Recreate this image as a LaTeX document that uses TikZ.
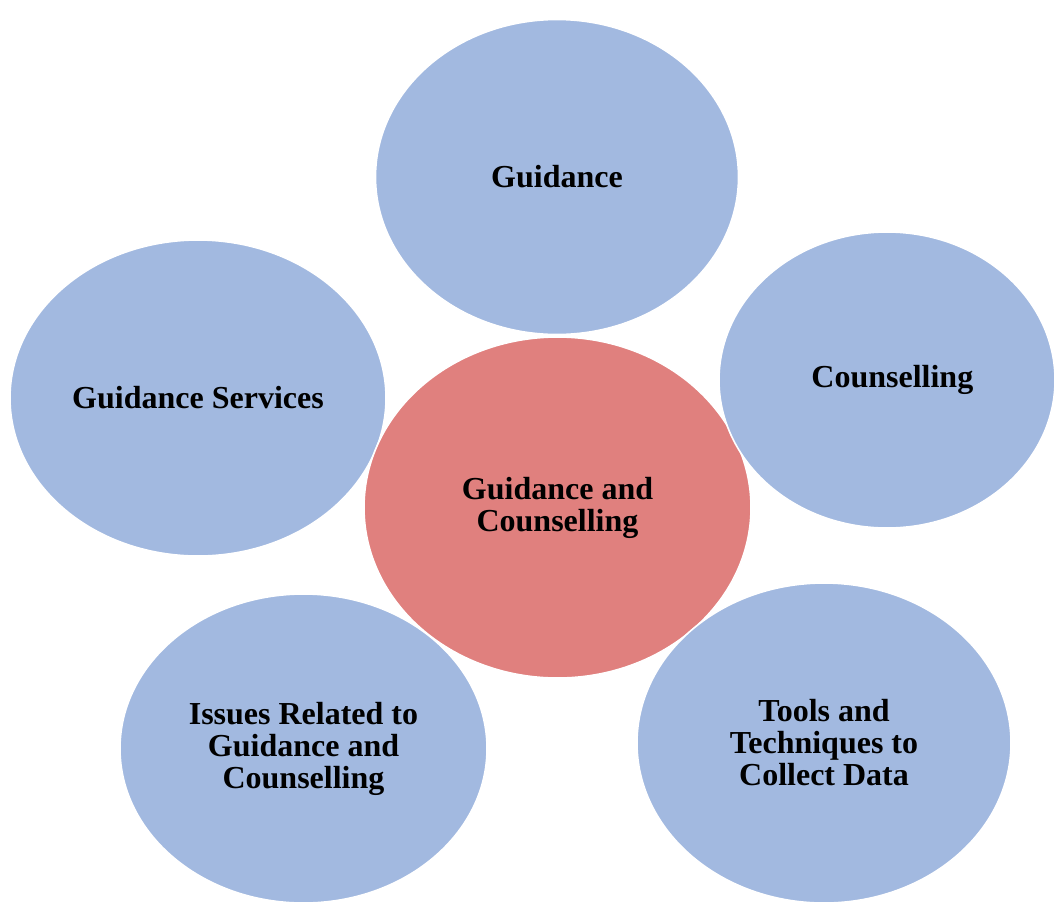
\documentclass[tikz,border=0pt]{standalone}
\usepackage{fontspec}
\setmainfont{Liberation Serif}
\usetikzlibrary{shapes.geometric}
\definecolor{bubbleblue}{RGB}{162,185,224}
\definecolor{bubblered}{RGB}{224,128,126}
\begin{document}
\begin{tikzpicture}[x=0.75pt,y=-0.75pt,
		bubble/.style={ellipse,fill=bubbleblue,draw=white,line width=1.2pt,inner sep=0pt,align=center,
			font=\fontsize{24}{24}\selectfont\bfseries},
		hub/.style={bubble,fill=bubblered}]
		\useasboundingbox (0,0) rectangle (1056,904);

		\node[bubble,minimum width=282pt,minimum height=237pt] (services) at (198,398) {Guidance Services};
		\node[bubble,minimum width=275.25pt,minimum height=231.75pt] (issues) at (303.5,748.5) {Issues Related to\\Guidance and\\Counselling};
		\node[bubble,minimum width=272.25pt,minimum height=236.25pt] (guidance) at (557,177) {Guidance};
		\node[hub,minimum width=290.25pt,minimum height=255.75pt] (gc) at (557.5,507.5) {Guidance and\\Counselling};
		\node[bubble,minimum width=252pt,minimum height=222pt] (counselling) at (887,380) {\hspace*{8pt}Counselling};
		\node[bubble,minimum width=280.5pt,minimum height=240pt] (tools) at (824,743) {Tools and\\Techniques to\\Collect Data};
	\end{tikzpicture}
\end{document}
